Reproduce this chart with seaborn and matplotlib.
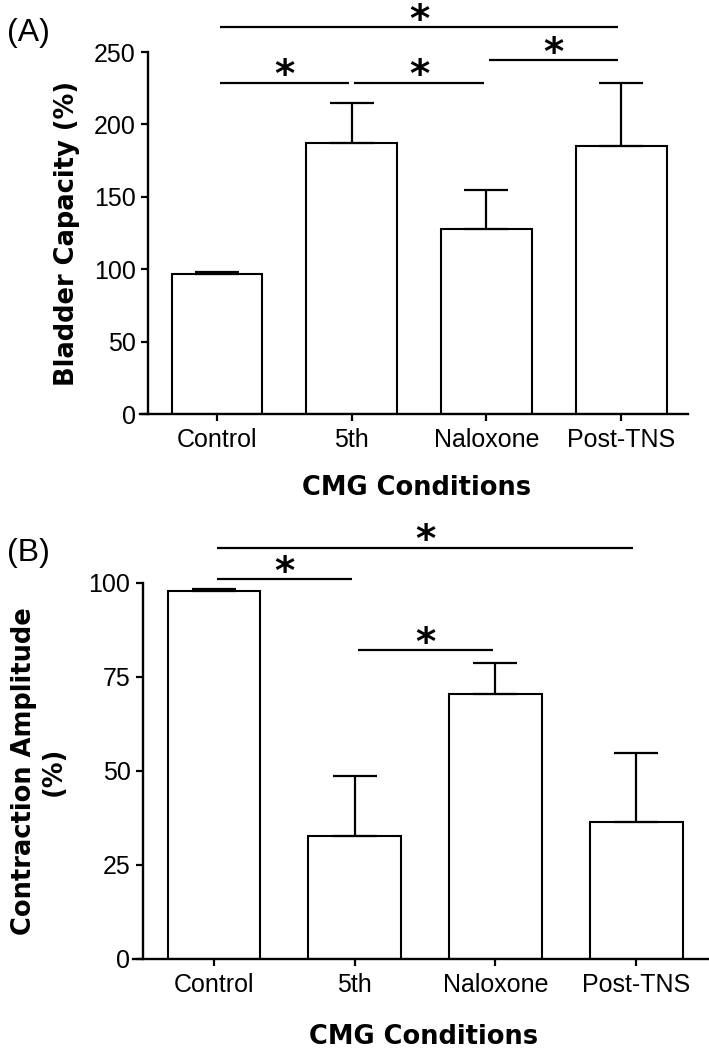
import matplotlib
matplotlib.use("Agg")
import matplotlib.pyplot as plt
import seaborn as sns
import numpy as np
import pandas as pd

# ---- data ----
categories = ["Control", "5th", "Naloxone", "Post-TNS"]
capacity_mean = [96.6, 187.4, 128.1, 184.9]
capacity_err = [1.6, 27.2, 26.7, 43.9]
amplitude_mean = [97.8, 32.7, 70.4, 36.4]
amplitude_err = [0.5, 15.9, 8.3, 18.3]
capacity_ticks = [0, 50, 100, 150, 200, 250]
amplitude_ticks = [0, 25, 50, 75, 100]
# significance brackets: (from index, to index, height in data units)
capacity_sig = [(0, 3, 267.0), (0, 1, 228.6), (1, 2, 228.6), (2, 3, 244.3)]
amplitude_sig = [(0, 3, 109.4), (0, 1, 101.0), (1, 2, 82.1)]

sns.set_style("ticks")
plt.rcParams["font.family"] = ["Liberation Sans", "DejaVu Sans"]
for k in ("text.color", "axes.labelcolor", "xtick.color", "ytick.color", "axes.edgecolor"):
    plt.rcParams[k] = "black"

W, H = 709, 1050
fig = plt.figure(figsize=(W / 100, H / 100), dpi=100)


def panel(rect, means, errs, ticks, ylim, xlim, spine_x, width, sig, ylabel, ylabel_x, xlabel_y):
    ax = fig.add_axes(rect)
    df = pd.DataFrame({"cond": categories, "val": means})
    sns.barplot(data=df, x="cond", y="val", order=categories, color="white",
                edgecolor="black", linewidth=1.5, width=width, errorbar=None,
                saturation=1, ax=ax)
    x = np.arange(len(categories))
    ax.errorbar(x, means, yerr=[np.zeros(len(errs)), errs], fmt="none",
                ecolor="black", elinewidth=1.6, capsize=15.5, capthick=1.6, zorder=3)
    ax.set_xlim(*xlim)
    ax.set_ylim(*ylim)
    ax.set_yticks(ticks)
    sns.despine(ax=ax)
    ax.spines["left"].set_position(("data", spine_x))
    for s in ("left", "bottom"):
        ax.spines[s].set_linewidth(1.7)
    ax.tick_params(axis="both", length=5, width=1.6, labelsize=18, color="black",
                   labelcolor="black")
    ax.tick_params(axis="y", pad=4)
    ax.tick_params(axis="x", pad=5)
    ax.set_ylabel(ylabel, fontsize=18.5, fontweight="bold", family="DejaVu Sans",
                  va="center", ha="center", multialignment="center")
    ax.yaxis.set_label_coords(ylabel_x, 0.5)
    ax.set_xlabel("CMG Conditions", fontsize=18.5, fontweight="bold",
                  family="DejaVu Sans", va="center")
    ax.xaxis.set_label_coords(0.504, xlabel_y)
    for i, j, h in sig:
        ax.plot([i + 0.02, j - 0.02], [h, h], color="black", lw=1.6,
                clip_on=False, solid_capstyle="butt")
        ax.annotate("*", xy=((i + j) / 2, h), xytext=(0, -9), textcoords="offset points",
                    ha="center", va="bottom", fontsize=28, fontweight="bold",
                    family="DejaVu Sans", annotation_clip=False)
    return ax


# Panel A
axA = panel([140 / W, 1 - 414 / H, 548 / W, 362 / H], capacity_mean, capacity_err,
            capacity_ticks, (0, 250), (-0.572, 3.497), -0.512, 0.675, capacity_sig,
            "Bladder Capacity (%)", -0.133, -0.204)
# Panel B
axB = panel([133 / W, 1 - 959 / H, 576 / W, 376 / H], amplitude_mean, amplitude_err,
            amplitude_ticks, (0, 100), (-0.576, 3.518), -0.505, 0.66, amplitude_sig,
            "Contraction Amplitude\n(%)", -0.163, -0.207)

fig.text(7 / W, 1 - 33 / H, "(A)", fontsize=23, ha="left", va="center")
fig.text(7 / W, 1 - 553 / H, "(B)", fontsize=23, ha="left", va="center")

fig.savefig("out.png", dpi=100)
